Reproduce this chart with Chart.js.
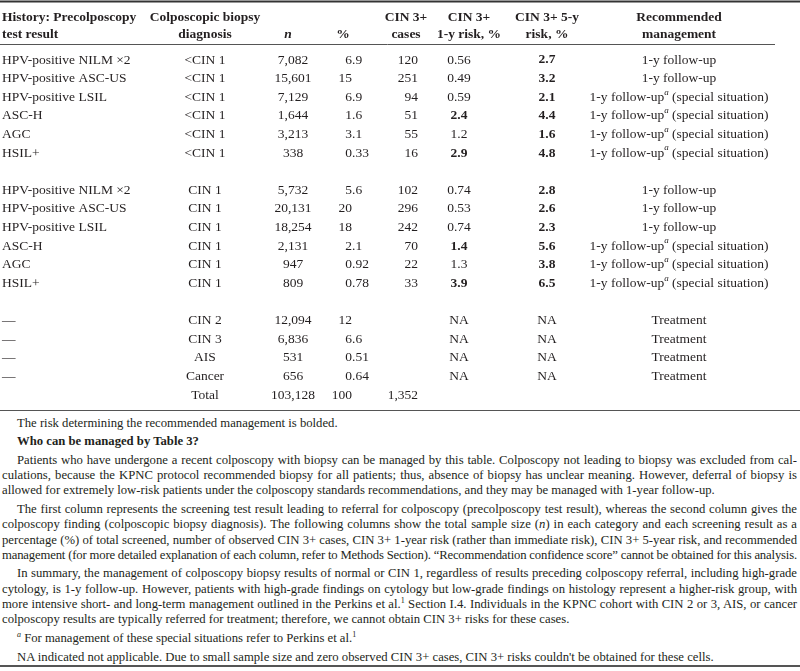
<!DOCTYPE html>
<html>
<head>
<meta charset="utf-8">
<title>Table 3 – colposcopy biopsy results</title>
<script src="https://cdn.jsdelivr.net/npm/chart.js@4.4.1/dist/chart.umd.min.js"></script>
<style>
  html, body { margin: 0; padding: 0; background: #fff; }
  body { width: 800px; height: 671px; overflow: hidden; position: relative; color: #231f20;
         font-family: "Liberation Serif", "Times New Roman", serif; }
  #tableWrap { position: relative; width: 800px; height: 412px; }
  #notes { font-size: 12.7px; line-height: 15.3px; padding-top: 3.6px; width: 795px; margin-left: 2px; }
  #notes .para { margin: 0 0 3.3px 0; }
  .ln { white-space: nowrap; text-align: justify; text-align-last: justify; }
  .last { text-align-last: left; }
  .ind { text-indent: 15px; }
  .tight { letter-spacing: -0.16px; word-spacing: -0.5px; }
  sup { font-size: 8px; line-height: 0; vertical-align: 5px; }
  #bottomRule { position: absolute; top: 665px; left: 0; width: 800px; height: 2px; background: #555; }
</style>
</head>
<body>
<div id="tableWrap"><canvas id="riskTable"></canvas></div>
<div id="notes">
  <div class="para"><div class="ln last ind">The risk determining the recommended management is bolded.</div></div>
  <div class="para"><div class="ln last ind"><b>Who can be managed by Table 3?</b></div></div>
  <div class="para">
    <div class="ln ind">Patients who have undergone a recent colposcopy with biopsy can be managed by this table. Colposcopy not leading to biopsy was excluded from cal-</div>
    <div class="ln">culations, because the KPNC protocol recommended biopsy for all patients; thus, absence of biopsy has unclear meaning. However, deferral of biopsy is</div>
    <div class="ln last">allowed for extremely low-risk patients under the colposcopy standards recommendations, and they may be managed with 1-year follow-up.</div>
  </div>
  <div class="para">
    <div class="ln ind">The first column represents the screening test result leading to referral for colposcopy (precolposcopy test result), whereas the second column gives the</div>
    <div class="ln">colposcopy finding (colposcopic biopsy diagnosis). The following columns show the total sample size (<i>n</i>) in each category and each screening result as a</div>
    <div class="ln">percentage (%) of total screened, number of observed CIN 3+ cases, CIN 3+ 1-year risk (rather than immediate risk), CIN 3+ 5-year risk, and recommended</div>
    <div class="ln tight">management (for more detailed explanation of each column, refer to Methods Section). “Recommendation confidence score” cannot be obtained for this analysis.</div>
  </div>
  <div class="para">
    <div class="ln ind">In summary, the management of colposcopy biopsy results of normal or CIN 1, regardless of results preceding colposcopy referral, including high-grade</div>
    <div class="ln">cytology, is 1-y follow-up. However, patients with high-grade findings on cytology but low-grade findings on histology represent a higher-risk group, with</div>
    <div class="ln">more intensive short- and long-term management outlined in the Perkins et al.<sup>1</sup> Section I.4. Individuals in the KPNC cohort with CIN 2 or 3, AIS, or cancer</div>
    <div class="ln last">colposcopy results are typically referred for treatment; therefore, we cannot obtain CIN 3+ risks for these cases.</div>
  </div>
  <div class="para"><div class="ln last ind"><sup><i>a</i></sup> For management of these special situations refer to Perkins et al.<sup>1</sup></div></div>
  <div class="para"><div class="ln last ind">NA indicated not applicable. Due to small sample size and zero observed CIN 3+ cases, CIN 3+ risks couldn't be obtained for these cells.</div></div>
</div>
<div id="bottomRule"></div>

<script>
// Table 3: colposcopy biopsy results, CIN 3+ risks and management
// null = empty cell (blank spacer rows between the groups)

const historyResults = [
  'HPV-positive NILM ×2', 'HPV-positive ASC-US', 'HPV-positive LSIL', 'ASC-H', 'AGC', 'HSIL+',
  null,
  'HPV-positive NILM ×2', 'HPV-positive ASC-US', 'HPV-positive LSIL', 'ASC-H', 'AGC', 'HSIL+',
  null,
  '—', '—', '—', '—', null
];

const biopsyDiagnosis = [
  '<CIN 1', '<CIN 1', '<CIN 1', '<CIN 1', '<CIN 1', '<CIN 1',
  null,
  'CIN 1', 'CIN 1', 'CIN 1', 'CIN 1', 'CIN 1', 'CIN 1',
  null,
  'CIN 2', 'CIN 3', 'AIS', 'Cancer', 'Total'
];

const sampleSize = [7082, 15601, 7129, 1644, 3213, 338, null,
  5732, 20131, 18254, 2131, 947, 809, null,
  12094, 6836, 531, 656, 103128];

const percentOfTotal = ['6.9', '15', '6.9', '1.6', '3.1', '0.33', null,
  '5.6', '20', '18', '2.1', '0.92', '0.78', null,
  '12', '6.6', '0.51', '0.64', '100'];

const cin3Cases = [120, 251, 94, 51, 55, 16, null,
  102, 296, 242, 70, 22, 33, null,
  null, null, null, null, 1352];

const risk1y = ['0.56', '0.49', '0.59', '2.4', '1.2', '2.9', null,
  '0.74', '0.53', '0.74', '1.4', '1.3', '3.9', null,
  'NA', 'NA', 'NA', 'NA', null];

const risk5y = ['2.7', '3.2', '2.1', '4.4', '1.6', '4.8', null,
  '2.8', '2.6', '2.3', '5.6', '3.8', '6.5', null,
  'NA', 'NA', 'NA', 'NA', null];

// risk that determines the recommended management is bolded
const bold1y = [false, false, false, true, false, true, false,
  false, false, false, true, false, true, false,
  false, false, false, false, false];
const bold5y = risk5y.map(v => v !== null && v !== 'NA');

const management = [
  '1-y follow-up', '1-y follow-up', '1-y follow-up', '1-y follow-up', '1-y follow-up', '1-y follow-up',
  null,
  '1-y follow-up', '1-y follow-up', '1-y follow-up', '1-y follow-up', '1-y follow-up', '1-y follow-up',
  null,
  'Treatment', 'Treatment', 'Treatment', 'Treatment', null
];
const specialSituation = [false, false, true, true, true, true, false,
  false, false, false, true, true, true, false,
  false, false, false, false, false];

const headers = [
  { col: 'history', lines: ['History: Precolposcopy', 'test result'] },
  { col: 'biopsy', lines: ['Colposcopic biopsy', 'diagnosis'] },
  { col: 'nHead', lines: ['', 'n'], italic: true },
  { col: 'pctHead', lines: ['', '%'] },
  { col: 'casesHead', lines: ['CIN 3+', 'cases'] },
  { col: 'risk1Head', lines: ['CIN 3+', '1-y risk, %'] },
  { col: 'risk5', lines: ['CIN 3+ 5-y', 'risk, %'] },
  { col: 'mgmt', lines: ['Recommended', 'management'] }
];

// --- layout (x anchors in page px) ---
const COLS = {
  history: { x: 2, align: 'left' },
  biopsy: { x: 205, align: 'center' },
  n: { x: 293, align: 'center' },
  nHead: { x: 288, align: 'center' },
  pct: { x: 352, align: 'decimal' },
  pctHead: { x: 343, align: 'center' },
  cases: { x: 418, align: 'right' },
  casesHead: { x: 406, align: 'center' },
  risk1: { x: 459, align: 'center' },
  risk1Head: { x: 469, align: 'center' },
  risk5: { x: 547, align: 'center' },
  mgmt: { x: 679, align: 'center' }
};

const FONT = '"Liberation Serif", "Times New Roman", serif';
const REG = `13.5px ${FONT}`;
const BOLD = `bold 13.5px ${FONT}`;
const INK = '#231f20';

function putText(ctx, str, x, y, align, font) {
  ctx.font = font;
  ctx.textAlign = align;
  ctx.fillText(str, x, y);
}

function putDecimal(ctx, str, x, y, font) {
  const [intPart, frac] = str.split('.');
  putText(ctx, intPart, x, y, 'right', font);
  if (frac !== undefined) putText(ctx, '.' + frac, x, y, 'left', font);
}

function putManagement(ctx, str, special, cx, y) {
  const parts = special
    ? [{ t: str, f: REG, dy: 0 }, { t: 'a', f: `italic 9px ${FONT}`, dy: -5 }, { t: ' (special situation)', f: REG, dy: 0 }]
    : [{ t: str, f: REG, dy: 0 }];
  let w = 0;
  parts.forEach(p => { ctx.font = p.f; p.w = ctx.measureText(p.t).width; w += p.w; });
  let px = cx - w / 2;
  parts.forEach(p => {
    putText(ctx, p.t, px, y + p.dy, 'left', p.f);
    px += p.w;
  });
}

function hRule(ctx, x0, x1, y, width, color) {
  ctx.save();
  ctx.strokeStyle = color;
  ctx.lineWidth = width;
  ctx.beginPath();
  ctx.moveTo(x0, y);
  ctx.lineTo(x1, y);
  ctx.stroke();
  ctx.restore();
}

const tableText = {
  id: 'tableText',
  afterDraw(chart) {
    const { ctx, chartArea, scales: { x, y } } = chart;
    const px = key => x.getPixelForValue(COLS[key].x);
    ctx.save();
    ctx.fillStyle = INK;
    ctx.textBaseline = 'middle';

    // rules
    hRule(ctx, 0, 800, 1.5, 2, '#333');
    hRule(ctx, 0, 775, 44.5, 1, '#555');
    hRule(ctx, 0, 800, 410.5, 1, '#555');

    // header
    const headY = [chartArea.top - 42, chartArea.top - 25];
    headers.forEach(h => {
      const c = COLS[h.col];
      h.lines.forEach((line, k) => {
        if (!line) return;
        putText(ctx, line, px(h.col), headY[k], c.align, h.italic ? `italic ${BOLD}` : BOLD);
      });
    });

    // body rows
    historyResults.forEach((_, i) => {
      const ry = y.getPixelForValue(i);
      if (historyResults[i]) putText(ctx, historyResults[i], px('history'), ry, 'left', REG);
      if (biopsyDiagnosis[i]) putText(ctx, biopsyDiagnosis[i], px('biopsy'), ry, 'center', REG);
      if (sampleSize[i] !== null) putText(ctx, sampleSize[i].toLocaleString('en-US'), px('n'), ry, 'center', REG);
      if (percentOfTotal[i] !== null) putDecimal(ctx, percentOfTotal[i], px('pct'), ry, REG);
      if (cin3Cases[i] !== null) putText(ctx, cin3Cases[i].toLocaleString('en-US'), px('cases'), ry, 'right', REG);
      if (risk1y[i] !== null) putText(ctx, risk1y[i], px('risk1'), ry, 'center', bold1y[i] ? BOLD : REG);
      if (risk5y[i] !== null) putText(ctx, risk5y[i], px('risk5'), ry, 'center', bold5y[i] ? BOLD : REG);
      if (management[i]) putManagement(ctx, management[i], specialSituation[i], px('mgmt'), ry);
    });
    ctx.restore();
  }
};

new Chart(document.getElementById('riskTable'), {
  type: 'line',
  data: { labels: historyResults, datasets: [] },
  options: {
    responsive: true,
    maintainAspectRatio: false,
    animation: false,
    events: [],
    layout: { padding: { top: 60, bottom: 17, left: 0, right: 0 } },
    plugins: { legend: { display: false }, tooltip: { enabled: false } },
    scales: {
      x: { type: 'linear', min: 0, max: 800, display: false },
      y: { type: 'category', labels: historyResults.map((_, i) => 'row' + i), offset: false, display: false }
    }
  },
  plugins: [tableText]
});
</script>
</body>
</html>
